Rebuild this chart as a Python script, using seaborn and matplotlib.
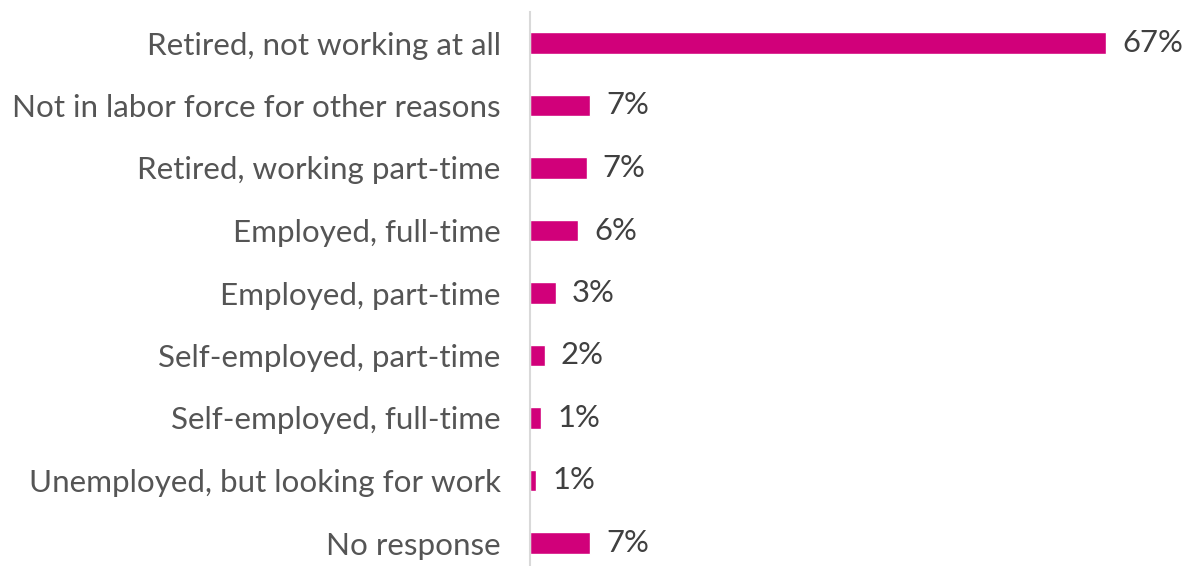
import matplotlib
matplotlib.use("Agg")
import matplotlib.pyplot as plt
import seaborn as sns
import pandas as pd

categories = [
    "Retired, not working at all",
    "Not in labor force for other reasons",
    "Retired, working part-time",
    "Employed, full-time",
    "Employed, part-time",
    "Self-employed, part-time",
    "Self-employed, full-time",
    "Unemployed, but looking for work",
    "No response",
]
shares = [67, 7.0, 6.6, 5.6, 3.0, 1.7, 1.3, 0.7, 7.0]

df = pd.DataFrame({"category": categories, "share": shares})

sns.set_theme(style="white")
plt.rcParams["font.family"] = ["Lato", "DejaVu Sans"]

W, H, DPI = 1184, 566, 100
fig = plt.figure(figsize=(W / DPI, H / DPI), dpi=DPI)

px_per_unit = 8.6   # horizontal pixels per percentage point
row_px = 62.5       # vertical pixels between bar centres
left_px, top_px = 530, 12
ax = fig.add_axes([left_px / W, 0, (W - left_px) / W, (H - top_px) / H])

sns.barplot(data=df, x="share", y="category", orient="h", ax=ax,
            color="#D1007A", width=0.35, saturation=1, errorbar=None)

ax.set_xlim(0, (W - left_px) / px_per_unit)
ax.set_ylim(len(categories) - 1 + (H - 543) / row_px, -(43 - top_px) / row_px)

for i, v in enumerate(shares):
    ax.annotate(f"{v:.0f}%", xy=(v, i), xytext=(11.5, 0), textcoords="offset points",
                ha="left", va="center", fontsize=22.3, color="#404040")

ax.set_xlabel("")
ax.set_ylabel("")
ax.set_xticks([])
ax.tick_params(axis="y", length=0, pad=21, labelsize=22.6, labelcolor="#555555")
for side in ["top", "right", "bottom"]:
    ax.spines[side].set_visible(False)
ax.spines["left"].set_color("#d9d9d9")
ax.spines["left"].set_linewidth(1.5)

fig.savefig("out.png", dpi=DPI)
